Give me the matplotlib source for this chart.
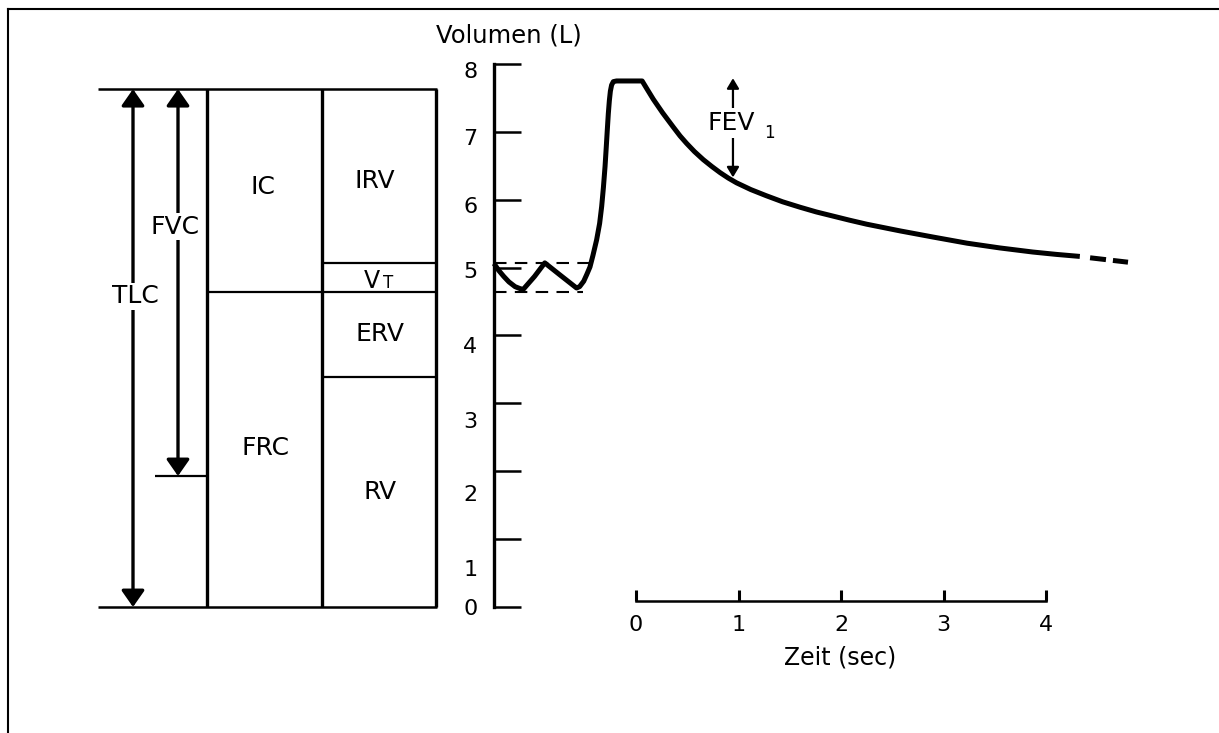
import matplotlib.pyplot as plt
from matplotlib.lines import Line2D
from matplotlib.ticker import FixedLocator, FixedFormatter

plt.rcParams['font.family'] = ['DejaVu Sans']

W, H = 1219, 733

# lung volume levels (L) of the bar diagram
tlc_level = 7.63
vt_top = 5.07
frc_level = 4.64
rv_level = 3.39
fvc_low = 1.93

# spirogram: time (s) vs volume (L)
trace_t = [-1.385, -1.34, -1.29, -1.24, -1.18, -1.13, -1.10, -0.99, -0.89, -0.74,
           -0.58, -0.55, -0.51, -0.48, -0.449, -0.42, -0.384, -0.355, -0.335, -0.318,
           -0.302, -0.29, -0.28, -0.27, -0.26, -0.25, -0.238, -0.221, -0.19, 0.06,
           0.10, 0.169, 0.26, 0.364, 0.43, 0.494, 0.57, 0.657, 0.74, 0.82,
           0.90, 0.98, 1.12, 1.27, 1.43, 1.60, 1.76, 1.92, 2.08, 2.25,
           2.58, 2.90, 3.23, 3.55, 3.87, 4.10, 4.33]
trace_v = [5.06, 4.96, 4.87, 4.79, 4.72, 4.69, 4.68, 4.87, 5.07, 4.89,
           4.70, 4.72, 4.80, 4.90, 5.01, 5.18, 5.41, 5.65, 5.90, 6.18,
           6.49, 6.78, 7.03, 7.27, 7.46, 7.60, 7.69, 7.74, 7.75, 7.75,
           7.65, 7.48, 7.28, 7.07, 6.94, 6.83, 6.71, 6.59, 6.49, 6.40,
           6.32, 6.25, 6.15, 6.06, 5.97, 5.89, 5.82, 5.76, 5.70, 5.64,
           5.54, 5.45, 5.36, 5.29, 5.23, 5.195, 5.165]
tail_t = [4.43, 4.80]
tail_v = [5.145, 5.08]

fev1_t = 0.946
fev1_top = 7.79
fev1_bottom = 6.33

vol_ticks = [0, 1, 2, 3, 4, 5, 6, 7, 8]
vol_label_pos = [0.0, 0.57, 1.68, 2.75, 3.86, 4.96, 5.92, 6.92, 7.91]
time_ticks = [0, 1, 2, 3, 4]

fig = plt.figure(figsize=(W / 100, H / 100), dpi=100)
fig.patch.set_facecolor('white')

# frame (top + left only)
fig.add_artist(Line2D([8 / W, 1], [1 - 9 / H, 1 - 9 / H], transform=fig.transFigure, color='k', lw=1.5))
fig.add_artist(Line2D([8 / W, 8 / W], [1 - 9 / H, 0], transform=fig.transFigure, color='k', lw=1.5))

ax_b = (H - 607) / H
ax_h = 543 / H

# --- left: lung volume diagram (x in pixels, y in litres)
axl = fig.add_axes([0, ax_b, 494 / W, ax_h])
axl.set_xlim(0, 494)
axl.set_ylim(0, 8)
axl.axis('off')

kw = dict(color='k', solid_capstyle='butt', clip_on=False)
axl.plot([98, 437], [tlc_level, tlc_level], lw=1.8, **kw)
axl.plot([98, 437], [0, 0], lw=1.8, **kw)
for x in (207, 322, 436):
    axl.plot([x, x], [0, tlc_level], lw=2.4, **kw)
axl.plot([207, 436], [frc_level, frc_level], lw=1.6, **kw)
axl.plot([322, 436], [vt_top, vt_top], lw=1.6, **kw)
axl.plot([322, 436], [rv_level, rv_level], lw=1.6, **kw)
axl.plot([155, 207], [fvc_low, fvc_low], lw=1.6, **kw)

big_arrow = dict(arrowstyle='<|-|>,head_length=10,head_width=7', mutation_scale=1,
                 lw=2.4, color='k', shrinkA=0, shrinkB=0)
axl.annotate('', xy=(133, 0), xytext=(133, tlc_level), arrowprops=big_arrow, annotation_clip=False)
axl.annotate('', xy=(178, fvc_low), xytext=(178, tlc_level), arrowprops=big_arrow, annotation_clip=False)

fs = 18
wbox = dict(fc='white', ec='none', pad=1)
axl.text(135, 4.58, 'TLC', ha='center', va='center', fontsize=fs, bbox=wbox)
axl.text(175, 5.60, 'FVC', ha='center', va='center', fontsize=fs, bbox=wbox)
axl.text(263, 6.19, 'IC', ha='center', va='center', fontsize=fs)
axl.text(375, 6.27, 'IRV', ha='center', va='center', fontsize=fs)
axl.text(380, 4.02, 'ERV', ha='center', va='center', fontsize=fs)
axl.text(265, 2.34, 'FRC', ha='center', va='center', fontsize=fs)
axl.text(380, 1.69, 'RV', ha='center', va='center', fontsize=fs)
axl.text(372, 4.70, 'V', ha='center', va='baseline', fontsize=17)
axl.text(388, 4.70, 'T', ha='center', va='baseline', fontsize=12)

# --- right: spirogram
t0 = (494 - 636) / 102.5
t1 = (1138 - 636) / 102.5
axr = fig.add_axes([494 / W, ax_b, (1138 - 494) / W, ax_h])
axr.set_xlim(t0, t1)
axr.set_ylim(0, 8)
axr.patch.set_alpha(0)
axr.spines[['top', 'right']].set_visible(False)
axr.spines['left'].set_linewidth(2.4)
axr.spines['left'].set_bounds(0, 8)
axr.spines['bottom'].set_linewidth(1.8)
axr.spines['bottom'].set_position(('data', 0.09))
axr.spines['bottom'].set_bounds(0, 4)

axr.set_yticks(vol_ticks)
axr.tick_params(axis='y', which='major', direction='in', length=19.4, width=1.8, labelleft=False)
axr.yaxis.remove_overlapping_locs = False
axr.yaxis.set_minor_locator(FixedLocator(vol_label_pos))
axr.yaxis.set_minor_formatter(FixedFormatter([str(v) for v in vol_ticks]))
axr.tick_params(axis='y', which='minor', length=0, pad=12, labelsize=16)

axr.set_xticks(time_ticks)
axr.set_xticklabels([str(t) for t in time_ticks])
axr.tick_params(axis='x', direction='in', length=8, width=2.2, pad=10, labelsize=16)

axr.plot(trace_t, trace_v, color='k', lw=3.6, solid_joinstyle='round', solid_capstyle='butt', clip_on=False)
axr.plot(tail_t, tail_v, color='k', lw=3.6, linestyle=(0, (3.2, 1.4)), dash_capstyle='butt', clip_on=False)
axr.plot([t0, -0.45], [vt_top, vt_top], color='k', lw=1.5, linestyle=(0, (6, 4)), clip_on=False)
axr.plot([t0, -0.52], [frc_level, frc_level], color='k', lw=1.5, linestyle=(0, (6, 4)), clip_on=False)

small_arrow = dict(arrowstyle='<|-|>,head_length=6,head_width=3.6', mutation_scale=1,
                   lw=1.6, color='k', shrinkA=0, shrinkB=0)
axr.annotate('', xy=(fev1_t, fev1_top), xytext=(fev1_t, fev1_bottom), arrowprops=small_arrow)
axr.text(0.93, 7.13, 'FEV', ha='center', va='center', fontsize=18, bbox=dict(fc='white', ec='none', pad=2))
axr.text(1.30, 6.98, '1', ha='center', va='center', fontsize=12)

fig.text(509 / W, 1 - 35 / H, 'Volumen (L)', ha='center', va='center', fontsize=17.5)
fig.text(840 / W, 1 - 657 / H, 'Zeit (sec)', ha='center', va='center', fontsize=17)

fig.savefig('out.png', dpi=100)
